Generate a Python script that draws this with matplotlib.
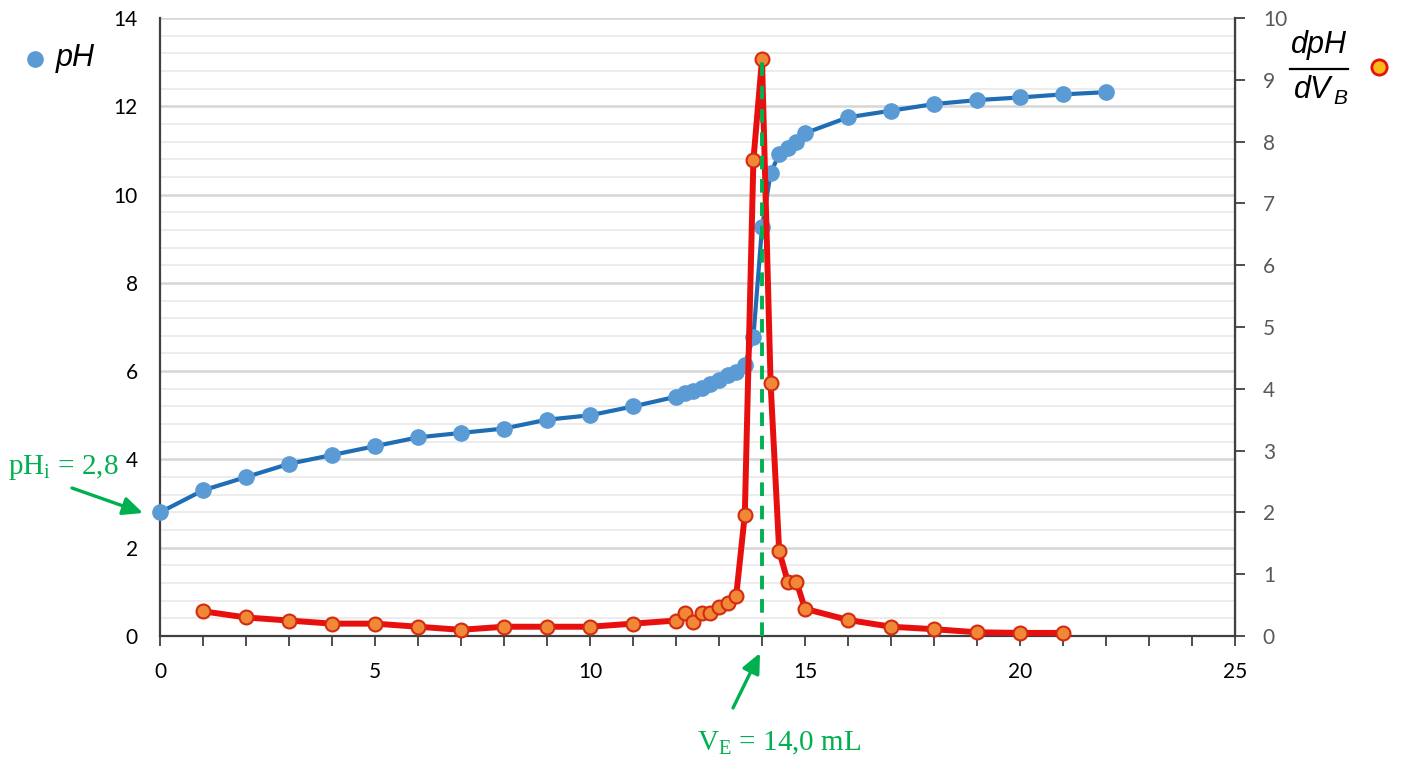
import matplotlib
matplotlib.use("Agg")
import matplotlib.pyplot as plt
from matplotlib.lines import Line2D
from matplotlib.ticker import MultipleLocator
import numpy as np

# ---- data ----
vol_ph = [0, 1, 2, 3, 4, 5, 6, 7, 8, 9, 10, 11, 12, 12.2, 12.4, 12.6, 12.8, 13.0,
          13.2, 13.4, 13.6, 13.8, 14.0, 14.2, 14.4, 14.6, 14.8, 15.0,
          16, 17, 18, 19, 20, 21, 22]
ph = [2.8, 3.3, 3.6, 3.9, 4.1, 4.3, 4.5, 4.6, 4.7, 4.9, 5.0, 5.2, 5.42, 5.51, 5.56, 5.61,
      5.72, 5.80, 5.91, 5.99, 6.14, 6.78, 9.26, 10.48, 10.92, 11.05, 11.2, 11.39,
      11.75, 11.9, 12.05, 12.14, 12.2, 12.27, 12.32]

vol_d = [1, 2, 3, 4, 5, 6, 7, 8, 9, 10, 11, 12, 12.2, 12.4, 12.6, 12.8, 13.0, 13.2,
         13.4, 13.6, 13.8, 14.0, 14.2, 14.4, 14.6, 14.8, 15.0, 16, 17, 18, 19, 20, 21]
dph = [0.40, 0.30, 0.25, 0.20, 0.20, 0.15, 0.10, 0.15, 0.15, 0.15, 0.20, 0.25, 0.38,
       0.22, 0.38, 0.37, 0.47, 0.54, 0.65, 1.96, 7.7, 9.33, 4.09, 1.37, 0.88, 0.88,
       0.44, 0.26, 0.15, 0.11, 0.06, 0.05, 0.05]

x_ticks = [0, 5, 10, 15, 20, 25]
ph_ticks = [0, 2, 4, 6, 8, 10, 12, 14]
d_ticks = list(range(0, 11))
v_eq = 14.0
ph_i = 2.8

W, H = 1402, 760
fig = plt.figure(figsize=(W / 100, H / 100), dpi=100)
plt.rcParams['font.family'] = ['Lato', 'DejaVu Sans']

def fx(px):
    return px / W

def fy(py):
    return 1 - py / H

ax = fig.add_axes([fx(160), fy(636), fx(1235) - fx(160), fy(18) - fy(636)])
ax2 = ax.twinx()

# grid
ax.set_ylim(0, 14)
ax.set_xlim(0, 25)
ax.yaxis.set_minor_locator(MultipleLocator(0.4))
ax.set_yticks(ph_ticks)
ax.grid(axis='y', which='major', color='#d6d6d6', lw=1.8, zorder=0)
ax.grid(axis='y', which='minor', color='#ececec', lw=1.4, zorder=0)
ax.set_axisbelow(True)

ax.set_xticks(x_ticks)
ax.xaxis.set_minor_locator(MultipleLocator(1))
ax.tick_params(axis='x', which='both', direction='out', length=7, width=1.3,
               color='#404040', pad=12, labelsize=15, labelcolor='black')
ax.tick_params(axis='y', which='both', length=0, pad=16, labelsize=15,
               labelcolor='black')

for s in ['top']:
    ax.spines[s].set_visible(False)
    ax2.spines[s].set_visible(False)
ax.spines['left'].set_color('#404040')
ax.spines['left'].set_linewidth(1.6)
ax.spines['bottom'].set_color('#404040')
ax.spines['bottom'].set_linewidth(1.6)
ax2.spines['right'].set_color('#404040')
ax2.spines['right'].set_linewidth(1.6)
ax2.spines['left'].set_visible(False)
ax2.spines['bottom'].set_visible(False)

ax2.set_ylim(0, 10)
ax2.set_yticks(d_ticks)
ax2.tick_params(axis='y', direction='out', length=7, width=1.3, color='#404040',
                pad=13, labelsize=15, labelcolor='#595959')

# pH curve
ax.plot(vol_ph, ph, color='#1f6db5', lw=3, marker='o', ms=11,
        mfc='#5b9bd5', mec='#5b9bd5', zorder=3, clip_on=False)

# derivative curve
ax2.plot(vol_d, dph, color='#e8100e', lw=4.3, marker='o', ms=10,
         mfc='#f08838', mec='#d42a10', mew=1.5, zorder=3, clip_on=False)

# equivalence dashed line
ax2.plot([v_eq, v_eq], [0, max(dph)], color='#00b050', lw=2.8,
         ls=(0, (3.5, 2.5)), zorder=4)

green = '#00b050'
# annotations
fig.text(fx(8), fy(467), r'pH$_\mathregular{i}$ = 2,8', color=green, fontsize=21,
         family='Liberation Serif', ha='left', va='center')
fig.text(fx(779), fy(743), r'V$_\mathregular{E}$ = 14,0 mL', color=green, fontsize=21,
         family='Liberation Serif', ha='center', va='center')

ax.annotate('', xy=(fx(143), fy(513)), xycoords='figure fraction',
            xytext=(fx(72), fy(488)), textcoords='figure fraction',
            arrowprops=dict(arrowstyle='-|>,head_length=1.2,head_width=0.55',
                            color=green, lw=2.4, shrinkA=0, shrinkB=0))
ax.annotate('', xy=(fx(760), fy(653)), xycoords='figure fraction',
            xytext=(fx(733), fy(708)), textcoords='figure fraction',
            arrowprops=dict(arrowstyle='-|>,head_length=1.2,head_width=0.55',
                            color=green, lw=2.4, shrinkA=0, shrinkB=0))

# legends
fig.add_artist(Line2D([fx(35)], [fy(59)], transform=fig.transFigure, marker='o',
                      ms=11, mfc='#5b9bd5', mec='#5b9bd5', ls='none'))
fig.text(fx(56), fy(58), 'pH', fontsize=22, style='italic', family='Liberation Sans',
         ha='left', va='center')

fig.text(fx(1319), fy(45), 'dpH', fontsize=22, style='italic', family='Liberation Sans',
         ha='center', va='center')
fig.add_artist(Line2D([fx(1290), fx(1348)], [fy(69), fy(69)],
                      transform=fig.transFigure, color='black', lw=1.6))
fig.text(fx(1313), fy(90), 'dV', fontsize=22, style='italic', family='Liberation Sans',
         ha='center', va='center')
fig.text(fx(1333), fy(99), 'B', fontsize=15, style='italic', family='Liberation Sans',
         ha='left', va='center')
fig.add_artist(Line2D([fx(1379)], [fy(67)], transform=fig.transFigure, marker='o',
                      ms=11, mfc='#fbb818', mec='#e8100e', mew=2, ls='none'))

fig.savefig('out.png', dpi=100)
